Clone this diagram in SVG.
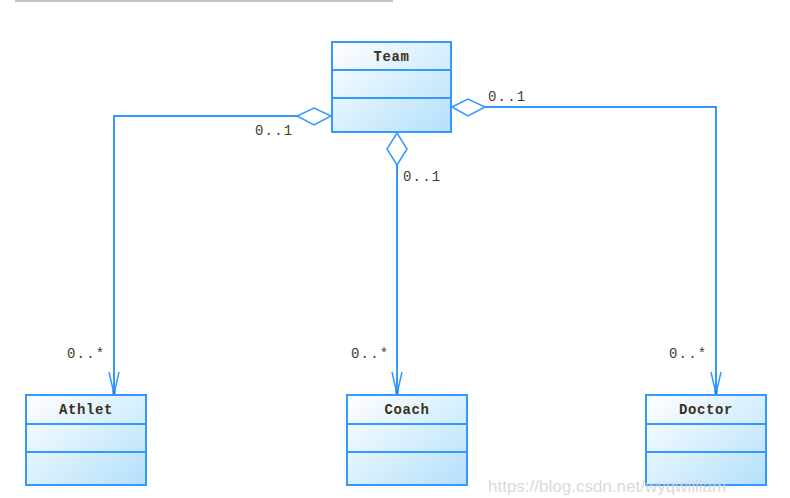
<svg xmlns="http://www.w3.org/2000/svg" width="790" height="498" viewBox="0 0 790 498">
<defs>
<linearGradient id="g" x1="0" y1="0" x2="1" y2="1">
<stop offset="0" stop-color="#ffffff"/>
<stop offset="1" stop-color="#b3e0fb"/>
</linearGradient>
<marker id="arr" markerWidth="26" markerHeight="14" refX="24" refY="7" orient="auto" markerUnits="userSpaceOnUse" viewBox="0 0 26 14">
<path d="M2,2 L24,7 L2,12" fill="none" stroke="#3399ff" stroke-width="1.5"/>
<rect x="20" y="5.5" width="4" height="3" fill="#1f7fe6"/>
</marker>
</defs>
<style>
.box{fill:url(#g);stroke:#3399ff;stroke-width:2}
.div{stroke:#3399ff;stroke-width:2}
.name{font-family:"Liberation Mono",monospace;font-size:14px;font-weight:bold;letter-spacing:0.6px;fill:#3a3020;text-anchor:middle}
.mult{font-family:"Liberation Mono",monospace;font-size:14px;letter-spacing:1.2px;fill:#4a3a28}
.line{fill:none;stroke:#3399ff;stroke-width:2}
.dia{fill:#ffffff;stroke:#3399ff;stroke-width:1.5}
</style>
<rect x="15" y="0" width="378" height="2" fill="#c4c4c4"/>
<g id="team">
<rect class="box" x="332" y="42" width="119" height="90"/>
<line class="div" x1="332" y1="70" x2="451" y2="70"/>
<line class="div" x1="332" y1="98" x2="451" y2="98"/>
<text class="name" x="391.5" y="61">Team</text>
</g>
<g id="athlet">
<rect class="box" x="26" y="395" width="120" height="90"/>
<line class="div" x1="26" y1="424" x2="146" y2="424"/>
<line class="div" x1="26" y1="452" x2="146" y2="452"/>
<text class="name" x="86" y="414">Athlet</text>
</g>
<g id="coach">
<rect class="box" x="347" y="395" width="120" height="90"/>
<line class="div" x1="347" y1="424" x2="467" y2="424"/>
<line class="div" x1="347" y1="452" x2="467" y2="452"/>
<text class="name" x="407" y="414">Coach</text>
</g>
<g id="doctor">
<rect class="box" x="646" y="395" width="120" height="90"/>
<line class="div" x1="646" y1="424" x2="766" y2="424"/>
<line class="div" x1="646" y1="452" x2="766" y2="452"/>
<text class="name" x="706" y="414">Doctor</text>
</g>
<g id="connectors">
<path class="line" d="M297,116 H114 V394" marker-end="url(#arr)"/>
<polygon class="dia" points="331,116 314,108 297,116 314,125"/>
<path class="line" d="M397,165 V394" marker-end="url(#arr)"/>
<polygon class="dia" points="397,133 407,149 397,165 387,149"/>
<path class="line" d="M485,107 H716 V394" marker-end="url(#arr)"/>
<polygon class="dia" points="452,107 468,99 485,107 468,116"/>
</g>
<g id="labels">
<text class="mult" x="255" y="135">0..1</text>
<text class="mult" x="488" y="101">0..1</text>
<text class="mult" x="403" y="181">0..1</text>
<text class="mult" x="67" y="358">0..*</text>
<text class="mult" x="351" y="358">0..*</text>
<text class="mult" x="669" y="358">0..*</text>
</g>
<text x="488" y="492" font-family="Liberation Sans, sans-serif" font-size="17" fill="#d0d0d0" fill-opacity="0.8">https://blog.csdn.net/wyqwilliam</text>
</svg>
